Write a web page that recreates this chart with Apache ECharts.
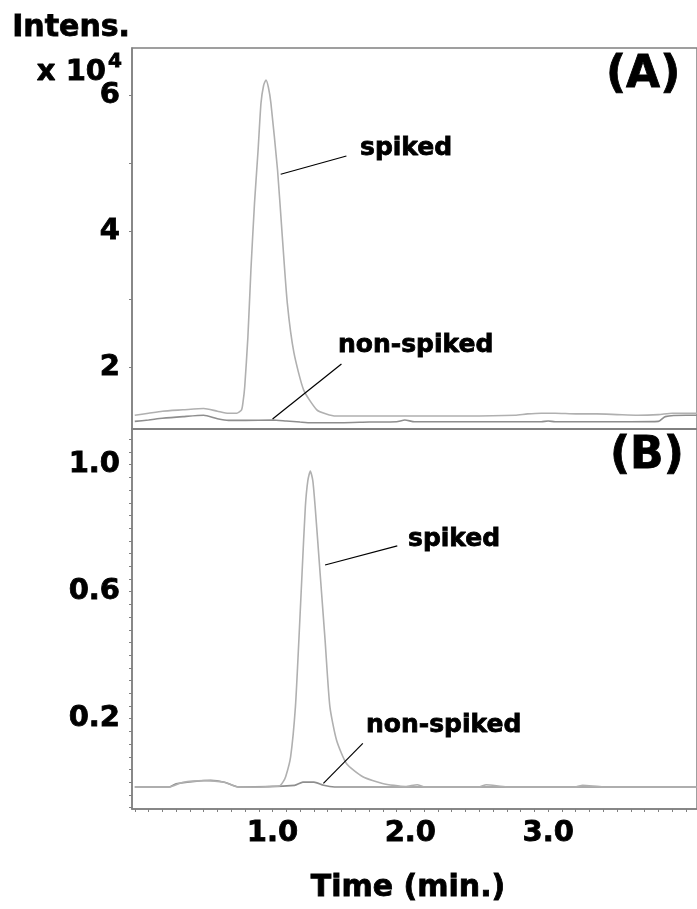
<!DOCTYPE html>
<html>
<head>
<meta charset="utf-8">
<script src="https://cdn.jsdelivr.net/npm/echarts@6/dist/echarts.min.js"></script>
<style>
html,body{margin:0;padding:0;background:#fff;}
#chart{width:697px;height:909px;}
</style>
</head>
<body>
<div id="chart"></div>
<script>
// ---------- data (time in min, intensity x10^4) ----------
const spikedA_t = [0.0,0.1,0.2,0.35,0.5,0.6,0.68,0.74,0.775,0.786,0.798,0.821,0.843,0.869,0.895,0.916,0.935,0.952,0.970,0.988,1.036,1.071,1.107,1.155,1.226,1.321,1.39,1.46,1.6,2.0,2.4,2.76,2.85,2.95,3.05,3.2,3.35,3.5,3.65,3.8,3.9,4.0,4.08];
const spikedA_v = [1.30,1.33,1.36,1.38,1.40,1.36,1.33,1.33,1.38,1.50,1.72,2.45,3.44,4.42,5.20,5.89,6.15,6.23,6.12,5.89,4.91,3.92,2.95,2.22,1.67,1.38,1.32,1.29,1.29,1.29,1.29,1.30,1.32,1.33,1.33,1.32,1.32,1.31,1.30,1.31,1.33,1.33,1.33];
const nonspikedA_t = [0.0,0.1,0.2,0.35,0.5,0.6,0.68,0.8,1.0,1.1,1.2,1.28,1.5,1.7,1.9,1.96,2.03,2.2,2.95,3.0,3.05,3.6,3.8,3.85,4.0,4.08];
const nonspikedA_v = [1.21,1.23,1.255,1.28,1.30,1.25,1.225,1.225,1.23,1.215,1.20,1.19,1.19,1.20,1.205,1.23,1.205,1.205,1.205,1.215,1.205,1.205,1.21,1.28,1.30,1.30];

const spikedB_t = [0.0,0.25,0.35,0.5,0.65,0.75,0.9,1.0,1.05,1.075,1.095,1.131,1.166,1.191,1.214,1.238,1.256,1.274,1.292,1.309,1.345,1.381,1.416,1.464,1.536,1.655,1.798,1.964,2.05,2.1,2.2,2.5,2.55,2.7,3.2,3.25,3.4,4.0,4.08];
const spikedB_v = [-0.015,-0.015,0.0,0.005,0.0,-0.015,-0.015,-0.013,-0.012,0.0,0.017,0.080,0.238,0.448,0.658,0.868,0.950,0.980,0.950,0.868,0.658,0.448,0.238,0.133,0.059,0.017,-0.004,-0.014,-0.008,-0.015,-0.015,-0.015,-0.008,-0.015,-0.015,-0.010,-0.015,-0.015,-0.015];
const nonspikedB_t = [0.0,0.25,0.3,0.45,0.55,0.65,0.75,1.16,1.22,1.3,1.37,1.45,2.0,4.08];
const nonspikedB_v = [-0.015,-0.015,-0.005,0.003,0.006,0.0,-0.015,-0.01,0.0,0.0,-0.01,-0.015,-0.015,-0.015];

// ---------- ticks & labels ----------
const xLabels = [1.0, 2.0, 3.0];
const yLabelsA = [2, 4, 6];
const yTicksA = [2, 3, 4, 5, 6];
const yLabelsB = [0.2, 0.6, 1.0];
const xTicks = []; for (let k = 0; k <= 40; k++) xTicks.push(k / 10);
const yTicksB = []; for (let k = -2; k <= 27; k++) yTicksB.push(Math.round(k * 4) / 100);

// annotation leader lines (data coords)
const leadA_spiked = [[1.059, 4.844], [1.536, 5.113]];
const leadA_non = [[1.0, 1.245], [1.5, 2.054]];
const leadB_spiked = [[1.381, 0.684], [1.905, 0.744]];
const leadB_non = [[1.369, -0.004], [1.655, 0.122]];

const zip = (t, v) => t.map((x, i) => [x, v[i]]);

const FONT = 'DejaVu Sans';
const axisGray = '#808080';
const labelStyle = {color: '#000', fontFamily: FONT, fontWeight: 'bold', fontSize: 29,
  textBorderColor: '#000', textBorderWidth: 0.8};

function lead(pts) {
  return {
    silent: true, symbol: ['none', 'none'], animation: false,
    lineStyle: {color: '#000', width: 1.2, type: 'solid'},
    label: {show: false},
    data: [[{coord: pts[0]}, {coord: pts[1]}]]
  };
}
function txt(x, y, s, size, align) {
  return {type: 'text', x: x, y: y, style: {text: s, fill: '#000', font: 'bold ' + size + 'px "DejaVu Sans"',
    textAlign: align, textVerticalAlign: 'middle', stroke: '#000', lineWidth: 0.8}};
}

const chart = echarts.init(document.getElementById('chart'), null, {renderer: 'canvas'});
const option = {
  animation: false,
  backgroundColor: '#fff',
  grid: [
    {left: 132, top: 48, right: -10, height: 381, show: true, borderColor: axisGray, borderWidth: 1.5},
    {left: 132, top: 429, right: -10, height: 380, show: true, borderColor: axisGray, borderWidth: 1.5}
  ],
  xAxis: [
    {type: 'value', gridIndex: 0, min: -0.02, max: 4.08,
     axisLine: {show: true, onZero: false, lineStyle: {color: axisGray, width: 1.5}},
     axisTick: {show: false}, axisLabel: {show: false}, splitLine: {show: false}},
    {type: 'value', gridIndex: 1, min: -0.02, max: 4.08,
     axisLine: {show: true, onZero: false, lineStyle: {color: axisGray, width: 1.5}},
     axisTick: {show: true, length: 3, customValues: xTicks, lineStyle: {color: axisGray, width: 1}},
     axisLabel: Object.assign({show: true, margin: 10, customValues: xLabels,
       formatter: v => Number(v).toFixed(1)}, labelStyle),
     splitLine: {show: false}}
  ],
  yAxis: [
    {type: 'value', gridIndex: 0, min: 1.098, max: 6.701,
     axisLine: {show: true, onZero: false, lineStyle: {color: axisGray, width: 1.5}},
     axisTick: {show: true, length: 3, customValues: yTicksA, lineStyle: {color: axisGray, width: 1}},
     axisLabel: Object.assign({show: true, margin: 12, customValues: yLabelsA,
       formatter: v => String(Math.round(v))}, labelStyle),
     splitLine: {show: false}},
    {type: 'value', gridIndex: 1, min: -0.0845, max: 1.1123,
     axisLine: {show: true, onZero: false, lineStyle: {color: axisGray, width: 1.5}},
     axisTick: {show: true, length: 3, customValues: yTicksB, lineStyle: {color: axisGray, width: 1}},
     axisLabel: Object.assign({show: true, margin: 12, customValues: yLabelsB,
       formatter: v => Number(v).toFixed(1)}, labelStyle),
     splitLine: {show: false}}
  ],
  series: [
    {name: 'non-spiked A', type: 'line', xAxisIndex: 0, yAxisIndex: 0, data: zip(nonspikedA_t, nonspikedA_v),
     showSymbol: false, smooth: 0.2, lineStyle: {color: '#8e8e8e', width: 1.6}, markLine: lead(leadA_non)},
    {name: 'spiked A', type: 'line', xAxisIndex: 0, yAxisIndex: 0, data: zip(spikedA_t, spikedA_v),
     showSymbol: false, smooth: 0.2, lineStyle: {color: '#b0b0b0', width: 1.6}, markLine: lead(leadA_spiked)},
    {name: 'non-spiked B', type: 'line', xAxisIndex: 1, yAxisIndex: 1, data: zip(nonspikedB_t, nonspikedB_v),
     showSymbol: false, smooth: 0.2, lineStyle: {color: '#8e8e8e', width: 1.6}, markLine: lead(leadB_non)},
    {name: 'spiked B', type: 'line', xAxisIndex: 1, yAxisIndex: 1, data: zip(spikedB_t, spikedB_v),
     showSymbol: false, smooth: 0.2, lineStyle: {color: '#b0b0b0', width: 1.6}, markLine: lead(leadB_spiked)}
  ],
  graphic: [
    txt(130, 28, 'Intens.', 30, 'right'),
    txt(106, 72, 'x 10', 29, 'right'),
    txt(108, 62, '4', 20, 'left'),
    txt(606, 76, '(A)', 44, 'left'),
    txt(610, 457, '(B)', 44, 'left'),
    txt(360, 148, 'spiked', 25, 'left'),
    txt(338, 345, 'non-spiked', 25, 'left'),
    txt(408, 539, 'spiked', 25, 'left'),
    txt(366, 725, 'non-spiked', 25, 'left'),
    txt(408, 888, 'Time (min.)', 30, 'center')
  ]
};
chart.setOption(option);
</script>
</body>
</html>
